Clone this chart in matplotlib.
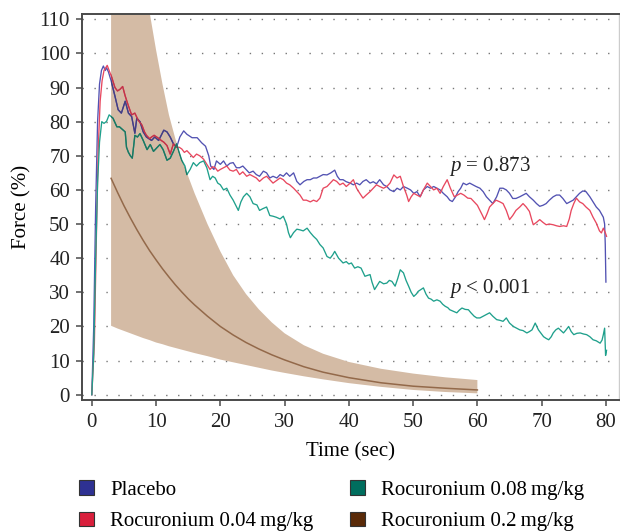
import matplotlib
matplotlib.use("Agg")
import matplotlib.pyplot as plt
from matplotlib.patches import Patch

plt.rcParams['font.family'] = ['Liberation Serif', 'DejaVu Serif']
plt.rcParams['mathtext.fontset'] = 'custom'
plt.rcParams['mathtext.it'] = 'Liberation Serif:italic'
plt.rcParams['mathtext.rm'] = 'Liberation Serif'

# ---------------- data ----------------
placebo_t = [0, 0.3, 0.6, 0.9, 1.2, 1.5, 1.8, 2.1, 2.3, 2.6, 3.0, 3.6, 4.1, 4.6, 5.2, 5.7, 6.2, 6.7, 7.0, 7.5,
             8.0, 8.5, 9.3, 9.8, 10.4, 11.2, 11.7, 12.2, 12.7, 13.2, 13.7, 14.3, 14.8, 15.6, 16.4, 17.1, 17.7,
             18.2, 18.5, 19.0, 19.4, 20.0, 20.5, 21.0, 21.5, 22.0, 22.5, 23.0, 23.5, 24.0, 24.5, 25.1, 25.6,
             26.1, 26.7, 27.2, 27.7, 28.2, 28.8, 29.3, 29.8, 30.3, 30.8, 31.4, 31.9, 32.4, 33.0, 33.5, 34.0,
             34.5, 35.0, 35.5, 36.0, 36.6, 37.2, 37.8, 38.2, 38.6, 39.1, 39.6, 40.2, 40.7, 41.2, 41.7, 42.2,
             42.7, 43.3, 43.8, 44.3, 44.8, 45.4, 45.9, 46.4, 47.0, 47.5, 48.0, 48.5, 49.1, 49.6, 50.1, 50.6,
             51.1, 51.6, 52.2, 52.7, 53.2, 53.7, 54.2, 54.7, 55.3, 55.7, 56.1, 56.6, 57.0, 57.4, 57.8, 58.3,
             58.8, 59.3, 59.8, 60.4, 60.9, 61.4, 61.9, 62.4, 63.0, 63.5, 64.0, 64.5, 65.0, 65.5, 66.0, 66.6,
             67.1, 67.6, 68.1, 68.7, 69.2, 69.7, 70.2, 70.7, 71.2, 71.8, 72.3, 72.8, 73.3, 73.9, 74.4, 74.9,
             75.4, 75.9, 76.4, 76.9, 77.5, 78.0, 78.5, 79.0, 79.3, 79.6, 79.8, 79.9, 80.0]
placebo_v = [0, 20, 55, 80, 91, 95, 96.3, 95, 95.8, 94.5, 92, 87.5, 83.5, 82.5, 86, 82.5, 81.5, 76.6, 81, 80,
             77, 75.5, 74.5, 75.5, 74.5, 77.5, 77, 75.5, 73.5, 72.5, 75.5, 77.3, 76.3, 75.3, 75.3, 73.8, 72.8,
             70, 67, 66, 68.5, 67.5, 68.5, 67, 67.8, 68, 66.5, 66.5, 67, 66, 65, 65.5, 64.5,
             64, 65.5, 65, 63.5, 64, 63.5, 64.5, 64, 65, 64, 65, 62.5, 61.5, 62.5, 63, 63,
             63.5, 63.5, 64, 64.5, 64.4, 65, 65.8, 64, 63, 63, 62.4, 62, 61.5, 62, 61.5, 62.5,
             63, 62, 62.4, 61.8, 63, 61.5, 61, 60, 59.5, 60.5, 60, 61, 60.5, 60, 59, 59.5,
             58, 60, 61, 60.5, 61, 60.5, 60, 59, 58, 57, 56.6, 58, 59.5, 60.5, 62, 61.5,
             62, 61.5, 61, 60.5, 59.5, 58, 57, 56, 58, 60.5, 60.5, 60, 59, 57.5, 57.5, 58,
             58.5, 59, 58, 57, 56, 55.2, 55.5, 56, 57, 58, 58.5, 58.5, 57.5, 56, 56.5, 57,
             58, 59, 59.7, 59.5, 58, 56.5, 55, 54, 53, 52, 50, 44, 33]

roc004_t = [0, 0.4, 0.7, 1.0, 1.3, 1.6, 1.9, 2.4, 2.7, 3.1, 3.6, 4.0, 4.4, 4.8, 5.2, 5.7, 6.2, 6.7, 7.2, 7.8,
            8.2, 8.5, 9.0, 9.3, 9.7, 10.1, 10.5, 10.8, 11.2, 11.7, 12.2, 12.7, 13.2, 13.6, 14.0, 14.4, 14.8,
            15.3, 15.8, 16.3, 16.8, 17.4, 17.9, 18.4, 18.8, 19.2, 19.6, 20.0, 20.5, 21.0, 21.5, 22.0, 22.5,
            23.0, 23.5, 24.1, 24.6, 25.1, 25.6, 26.1, 26.7, 27.2, 27.7, 28.2, 28.8, 29.3, 29.8, 30.3, 30.8,
            31.4, 31.9, 32.4, 32.9, 33.4, 34.0, 34.5, 35.0, 35.5, 36.0, 36.6, 37.1, 37.6, 38.1, 38.6, 39.1,
            39.6, 40.2, 40.7, 41.2, 41.7, 42.2, 42.7, 43.3, 43.8, 44.3, 44.8, 45.4, 45.9, 46.4, 47.0, 47.5,
            48.0, 48.5, 49.0, 49.3, 49.7, 50.1, 50.6, 51.1, 51.6, 52.2, 52.7, 53.2, 53.7, 54.2, 54.7, 55.3,
            55.8, 56.4, 56.9, 57.4, 57.9, 58.5, 59.0, 59.5, 60.0, 60.4, 60.8, 61.1, 61.5, 61.9, 62.4, 62.9,
            63.5, 64.0, 64.5, 65.0, 65.5, 66.0, 66.6, 67.1, 67.6, 68.1, 68.5, 68.7, 69.2, 69.7, 70.2, 70.7,
            71.2, 71.8, 72.3, 72.8, 73.4, 73.9, 74.3, 74.6, 75.0, 75.4, 75.9, 76.4, 76.9, 77.5, 78.0, 78.5,
            79.0, 79.3, 79.6, 79.9, 80.1]
roc004_v = [0, 15, 45, 72, 86, 92, 95, 96.5, 95, 93, 90, 89, 89.5, 90.3, 87.5, 84.6, 82, 82.5, 80.5, 79,
            77, 76, 75, 75.5, 76, 75.5, 75, 74.5, 74, 73, 70.5, 73.5, 72.5, 72.5, 72, 71, 71.5,
            70.5, 69.5, 70.5, 70, 69, 67.5, 66, 66.8, 66.5, 65.5, 66, 66.5, 67, 65.8, 65.5, 66,
            64.5, 65.3, 64, 64.5, 64, 63.5, 62.5, 63.5, 64, 63, 62, 62.8, 63.5, 63, 62, 61.5,
            60.5, 59.5, 58.5, 57, 57, 56.5, 57, 56.6, 57.6, 60.5, 61, 62, 63, 62.5, 61.5, 62,
            61, 62, 63, 60.5, 59, 57.6, 58.5, 59.5, 60.5, 61.5, 61, 60.5, 61, 62, 64.4, 63.5,
            64, 61, 58.5, 56.6, 58, 59, 58.5, 58, 60, 62, 61, 60, 60.5, 59, 61, 63,
            60.5, 58, 58.5, 59, 58.5, 57.6, 57.5, 56.5, 55.5, 54, 52.5, 51.3, 53, 55, 56, 57,
            56.5, 56, 54, 51.3, 52.5, 54, 55, 56, 55, 53.7, 51, 49.8, 50.5, 51.3, 50.5, 49.8,
            50, 49.8, 49.5, 49.3, 49.5, 49.3, 51.5, 54, 56, 57.6, 56.5, 56, 55, 54, 52, 50.3,
            48, 47.4, 48.8, 47.5, 46.4]

roc008_t = [0, 0.3, 0.6, 0.9, 1.2, 1.55, 1.9, 2.3, 2.7, 3.3, 3.9, 4.3, 4.6, 5.2, 5.4, 5.7, 6.0, 6.3, 6.7, 7.1,
            7.5, 8.0, 8.6, 9.1, 9.6, 10.1, 10.6, 11.1, 11.7, 12.2, 12.7, 13.2, 13.6, 14.0, 14.5, 14.8, 15.3,
            15.8, 16.3, 16.8, 17.4, 17.9, 18.4, 18.8, 19.2, 19.6, 20.0, 20.5, 21.0, 21.5, 22.0, 22.4, 22.8,
            23.2, 23.6, 24.1, 24.6, 25.1, 25.7, 26.1, 26.6, 27.2, 27.7, 28.2, 28.7, 29.3, 29.8, 30.3, 30.6,
            30.9, 31.4, 31.9, 32.4, 32.9, 33.5, 34.0, 34.5, 35.0, 35.5, 36.0, 36.6, 37.1, 37.5, 37.8, 38.4,
            39.1, 39.6, 40.0, 40.4, 40.9, 41.4, 41.9, 42.5, 43.3, 43.6, 44.0, 44.4, 44.8, 45.4, 45.9, 46.3,
            46.7, 47.2, 47.6, 48.0, 48.5, 48.9, 49.3, 49.7, 50.1, 50.5, 50.8, 51.2, 51.6, 52.0, 52.4, 52.8,
            53.2, 53.7, 54.2, 54.6, 55.0, 55.4, 55.7, 56.2, 56.8, 57.2, 57.6, 58.1, 58.6, 59.0, 59.5, 59.9,
            60.4, 60.9, 61.4, 61.9, 62.4, 63.0, 63.5, 64.0, 64.5, 65.0, 65.6, 66.1, 66.6, 67.1, 67.7, 68.1,
            68.5, 69.0, 69.5, 69.9, 70.3, 70.7, 71.1, 71.5, 71.8, 72.2, 72.6, 73.0, 73.4, 73.8, 74.2, 74.6,
            75.0, 75.5, 76.0, 76.5, 77.0, 77.5, 78.0, 78.5, 79.1, 79.4, 79.6, 79.8, 79.95, 80.1]
roc008_v = [0, 12, 40, 62, 74, 80, 79.5, 80.1, 82, 81, 78.5, 78.5, 78, 77, 72.5, 71, 70, 69.3, 76, 75.5,
            76.5, 74.5, 71.8, 73.3, 71.3, 72.3, 73.3, 71.8, 68.7, 69.3, 71.3, 73.5, 71, 68.7, 67, 64.5, 66,
            68, 67, 68, 68.5, 66.5, 63, 64, 63.5, 62, 61.5, 60, 60.5, 58.5, 57, 55.5, 54,
            56.5, 58, 59, 58, 56, 55.6, 54, 54.5, 55, 52.5, 52.3, 52, 51.5, 52.3, 50, 47.5,
            46, 47.5, 48.5, 48.3, 48, 48.8, 47.5, 46.4, 45.5, 44, 43, 40.5, 40, 41, 42, 40,
            38.6, 39, 38.3, 38.6, 37.1, 37.5, 37.1, 34.7, 35.2, 33, 30.8, 32, 33.2, 32.5, 32.7, 33.5,
            33.2, 31.8, 34, 36.6, 35.7, 33.5, 31.8, 30, 28.8, 29.5, 30.3, 30.8, 31.3, 29.5, 28.3, 28,
            27.4, 27.8, 27.4, 26.5, 25.9, 25.5, 24.9, 24.5, 24, 24.8, 25.4, 25, 24.9, 24, 23, 22.5,
            22.5, 23, 23.5, 24, 23, 22, 21.8, 21.5, 22.5, 21, 20, 19.5, 19, 18.8, 18.1, 18.5,
            19, 21, 19, 18, 17, 16.5, 16.1, 17, 18.1, 19, 19.5, 18.8, 18.1, 19, 20, 18.5,
            17.6, 18, 18.1, 17.8, 17.6, 17, 16.1, 15.8, 15.1, 16, 17.6, 19.5, 11.5, 13]

band_t = [3, 4, 5, 6, 7, 8, 9, 10, 11, 12, 13, 14, 15, 16, 18, 20, 22, 24, 26, 28, 30, 33, 36, 40, 45, 50, 55, 60]
band_mean = [63.4, 59.3, 55.4, 51.8, 48.4, 45.2, 42.2, 39.5, 36.9, 34.5, 32.2, 30.1, 28.1, 26.3, 23, 20, 17.5,
             15.3, 13.4, 11.7, 10.2, 8.2, 6.6, 5, 3.5, 2.5, 1.9, 1.4]
band_upper = [250, 215, 185, 160, 140, 124, 112, 101, 91, 82, 75, 69, 64, 59, 50, 42, 35, 29.5, 25, 21.2,
              18, 14.5, 12, 9.6, 7.6, 6.2, 5.1, 4.3]
band_lower = [20.2, 19.4, 18.7, 18.0, 17.3, 16.6, 16.0, 15.3, 14.8, 14.2, 13.7, 13.2, 12.7, 12.2, 11.3, 10.3,
              9.5, 8.7, 7.9, 7.1, 6.4, 5.4, 4.5, 3.4, 2.3, 1.4, 0.8, 0.4]

x_ticks = [0, 10, 20, 30, 40, 50, 60, 70, 80]
y_ticks = [0, 10, 20, 30, 40, 50, 60, 70, 80, 90, 100, 110]
labels = ["Placebo", "Rocuronium 0.04\u2009mg/kg", "Rocuronium 0.08\u2009mg/kg", "Rocuronium 0.2\u2009mg/kg"]

# ---------------- style ----------------
line_colors = ["#5252b2", "#e8485f", "#1fa08c"]
mult_colors = ["#453e80", "#c0354a", "#1d7560"]
legend_colors = ["#2e3192", "#d91f3c", "#006e5e", "#5a2a08"]
band_color = "#d4bba5"
mean_color = "#93694a"
spine_color = "#4a4a4a"
fs = 15

fig = plt.figure(figsize=(6.2, 5.31), dpi=100)
ax = fig.add_axes([0.132, 0.247, 0.866, 0.727])

band = ax.fill_between(band_t, band_lower, band_upper, color=band_color, lw=0, zorder=1)
ax.plot(band_t, band_mean, color=mean_color, lw=1.1, zorder=2)
band_path = band.get_paths()[0]

series = [(placebo_t, placebo_v), (roc004_t, roc004_v), (roc008_t, roc008_v)]
for (t, v), c, mc in zip(series, line_colors, mult_colors):
    ax.plot(t, v, color=c, lw=0.95, zorder=3)
    ln, = ax.plot(t, v, color=mc, lw=0.95, zorder=4)
    ln.set_clip_path(band_path, ax.transData)

ax.set_xlim(-1.55, 82.0)
ax.set_ylim(-1.5, 111.6)
ax.set_xticks(x_ticks)
ax.set_yticks(y_ticks)
ax.tick_params(axis='both', direction='out', length=4, width=1.1, color=spine_color,
               labelsize=fs, labelcolor="#222222")
ax.tick_params(axis='x', pad=5.5)
ax.tick_params(axis='y', pad=4.5)
ax.yaxis.grid(True, linestyle=(0, (1.0, 7.6)), color="#777777", lw=1.0)
ax.set_axisbelow(True)
for s in ["left", "bottom", "top"]:
    ax.spines[s].set_color(spine_color)
    ax.spines[s].set_linewidth(1.4)
ax.spines["right"].set_color("#cccccc")
ax.spines["right"].set_linewidth(1.0)

ax.set_xlabel("Time (sec)", fontsize=fs, labelpad=7.5)
ax.set_ylabel("Force (%)", fontsize=fs, labelpad=5)

ax.text(55.6, 67.0, r"$p$ = 0.873", fontsize=fs, va="center", ha="left", color="#222222")
ax.text(55.6, 31.0, r"$p$ < 0.001", fontsize=fs, va="center", ha="left", color="#222222")

handles = [Patch(facecolor=c, edgecolor="#333333", lw=0.8) for c in legend_colors]
fig.legend(handles, labels, ncol=2, loc="upper left", bbox_to_anchor=(79 / 620, 1 - 480 / 531),
           frameon=False, fontsize=fs, handlelength=0.7, handleheight=0.7, handletextpad=0.8,
           columnspacing=1.75, labelspacing=0.59, borderpad=0, borderaxespad=0)

fig.savefig("out.png", dpi=100)
